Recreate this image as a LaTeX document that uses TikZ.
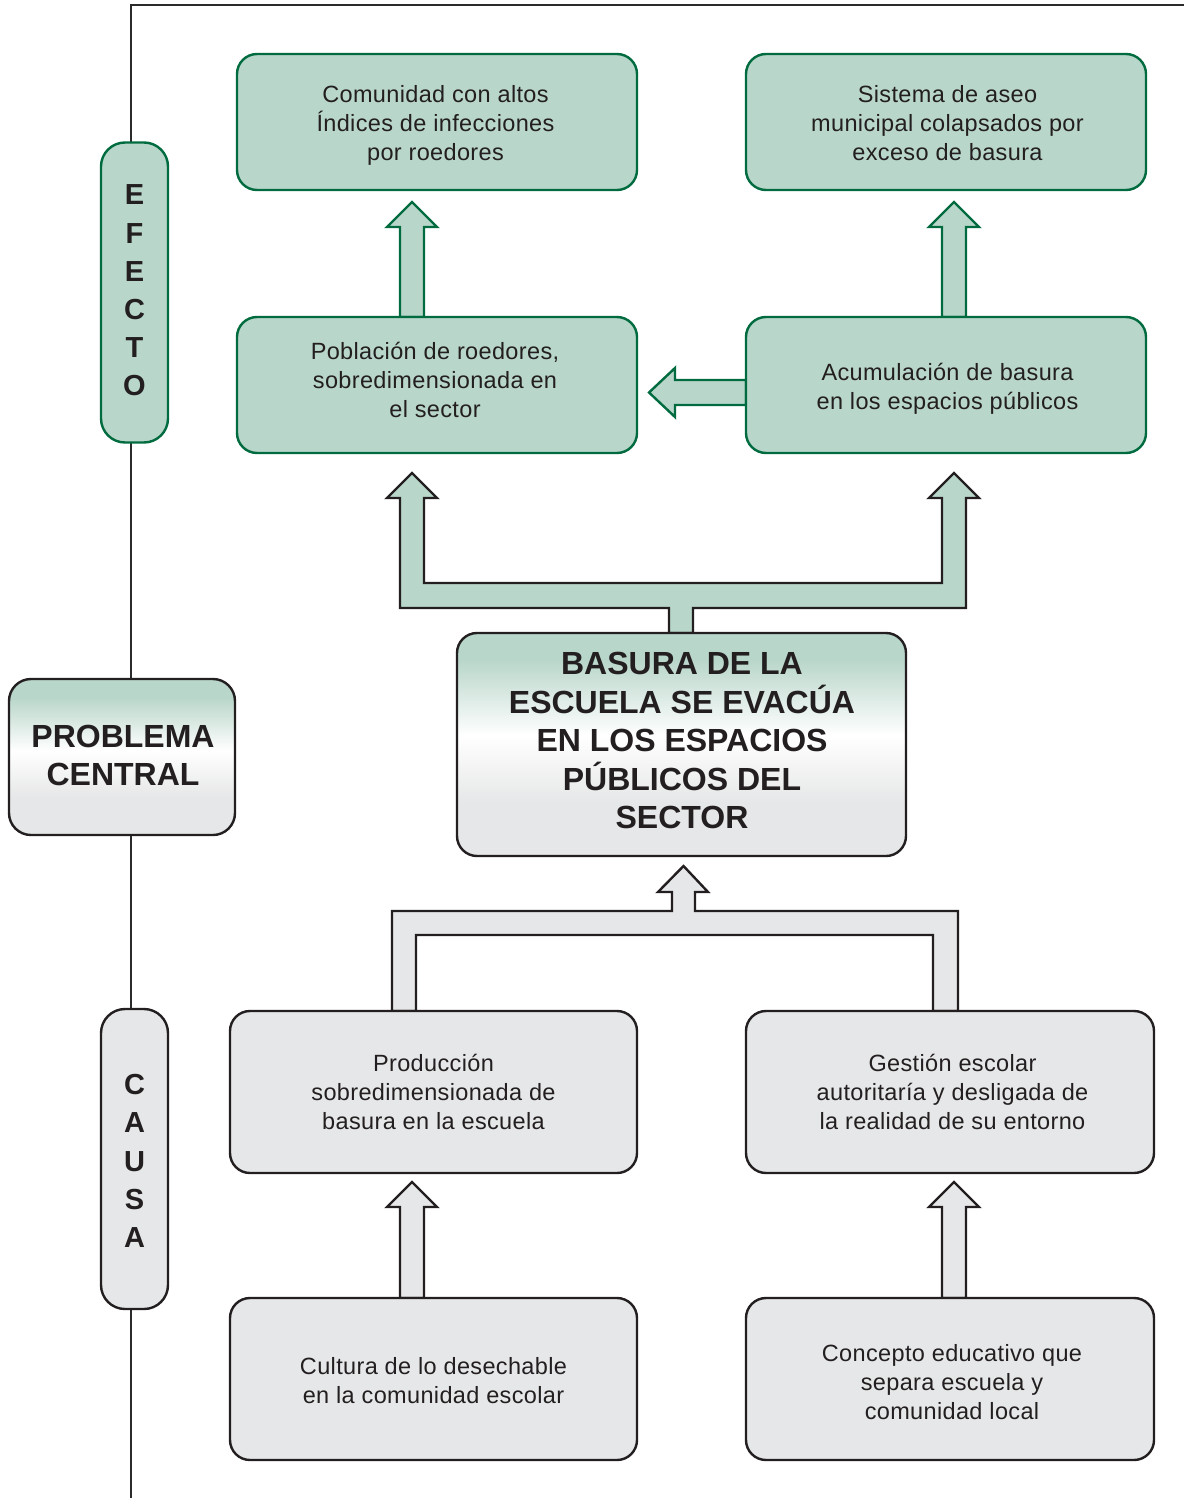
\documentclass[tikz,border=0pt]{standalone}
\usepackage{fontspec}
\setmainfont{Liberation Sans}
\newfontfamily\bodyfont[LetterSpace=1.5]{Liberation Sans}
\usetikzlibrary{calc}
\definecolor{gfill}{HTML}{B9D6CA}
\definecolor{gline}{HTML}{006B3F}
\definecolor{kfill}{HTML}{E6E7E8}
\definecolor{kline}{HTML}{231F20}
\definecolor{frameline}{HTML}{2B2B2B}
\pgfdeclareverticalshading{cshade}{100bp}{color(0bp)=(kfill); color(37bp)=(kfill); color(52bp)=(white); color(69bp)=(gfill); color(100bp)=(gfill)}
\tikzset{
  basebox/.style={rounded corners=20, line width=2.4pt, inner sep=0pt},
  gbox/.style={basebox, draw=gline, fill=gfill},
  kbox/.style={basebox, draw=kline, fill=kfill},
  txt/.style={align=center, inner sep=0pt, text=kline, font=\bodyfont\fontsize{23.5}{29}\selectfont},
  btxt/.style={align=center, inner sep=0pt, text=kline, font=\bfseries\fontsize{32}{38.5}\selectfont},
  pill/.style={rounded corners=24, line width=2.4pt, align=center, inner sep=0pt, text=kline,
     minimum width=67, minimum height=300, font=\bfseries\fontsize{29}{38.2}\selectfont},
  cbox/.style={basebox, draw=kline, shading=cshade},
  garrow/.style={draw=gline, fill=gfill, line width=2.4pt, line join=miter},
  karrow/.style={draw=kline, fill=gfill, line width=2.4pt, line join=miter},
  warrow/.style={draw=kline, fill=kfill, line width=2.4pt, line join=miter},
}
\newcommand{\blockup}[3]{% style, bottom-centre, length
  \draw[#1] ($(#2)+(-12,0)$) -- ++(0,-#3+25) -- ++(-13,0) -- ++(25,-25) -- ++(25,25) -- ++(-13,0) -- ++(0,#3-25) -- cycle;}
\begin{document}
\begin{tikzpicture}[x=1pt,y=-1pt]
\useasboundingbox (0,0) rectangle (1184,1498);
% frame line
\coordinate (fb) at (131,1498);
\coordinate (fc) at (131,5);
\coordinate (fr) at (1184,5);
\draw[frameline, line width=2.4pt] (fb) -- (fc) -- (fr);

% arrows (behind boxes)
\coordinate (a1) at (412,317);
\coordinate (a2) at (954,317);
\blockup{garrow}{a1}{115}
\blockup{garrow}{a2}{115}
% left arrow
\coordinate (la) at (746,392.5);
\draw[garrow] ($(la)+(0,-12.5)$) -- ++(-71,0) -- ++(0,-12) -- ++(-26,24.5) -- ++(26,24.5) -- ++(0,-12) -- ++(71,0) -- cycle;
% central fork (green, black border)
\coordinate (cf) at (681,633);
\draw[karrow] ($(cf)+(-12,0)$) -- ++(0,-25) -- (400,608) -- (400,498) -- (387,498) -- (412,473) -- (437,498) -- (424,498) -- (424,583)
   -- (942,583) -- (942,498) -- (929,498) -- (954,473) -- (979,498) -- (966,498) -- (966,608) -- (693,608) -- ($(cf)+(12,0)$) -- cycle;
% lower fork (gray)
\coordinate (lf) at (683.5,866);
\draw[warrow] (392,1011) -- (392,911) -- (672,911) -- (672,892) -- (658,892) -- (lf) -- (708,892) -- (695,892) -- (695,911)
   -- (958,911) -- (958,1011) -- (933,1011) -- (933,935) -- (416,935) -- (416,1011) -- cycle;
% bottom arrows
\coordinate (b1) at (412,1298);
\coordinate (b2) at (954,1298);
\blockup{warrow}{b1}{116}
\blockup{warrow}{b2}{116}

% side labels
\node[pill, draw=gline, fill=gfill] (efecto) at (134.5,292.5) {};
\node[pill, draw=none, fill=none] (efectot) at (134.5,290.5) {E\\F\\E\\C\\T\\O};
\node[pill, draw=kline, fill=kfill] (causa) at (134.5,1159) {};
\node[pill, draw=none, fill=none] (causat) at (134.5,1161) {C\\A\\U\\S\\A};
\node[cbox, rounded corners=22, minimum width=226, minimum height=156] (problema) at (122,757) {};
\node[btxt] (problemat) at (123,755.5) {PROBLEMA\\CENTRAL};

% effects
\node[gbox, minimum width=400, minimum height=136] (e1l) at (437,122) {};
\node[txt] (e1lt) at (435.5,125) {Comunidad con altos\\Índices de infecciones\\por roedores};
\node[gbox, minimum width=400, minimum height=136] (e1r) at (946,122) {};
\node[txt] (e1rt) at (947.5,123.5) {Sistema de aseo\\municipal colapsados por\\exceso de basura};
\node[gbox, minimum width=400, minimum height=136] (e2l) at (437,385) {};
\node[txt] (e2lt) at (435,380) {Población de roedores,\\sobredimensionada en\\el sector};
\node[gbox, minimum width=400, minimum height=136] (e2r) at (946,385) {};
\node[txt] (e2rt) at (947.5,389) {Acumulación de basura\\en los espacios públicos};

% central problem
\node[cbox, minimum width=449, minimum height=223] (central) at (681.5,744.5) {};
\node[btxt] (centralt) at (682,740.5) {BASURA DE LA\\ESCUELA SE EVACÚA\\EN LOS ESPACIOS\\PÚBLICOS DEL\\SECTOR};

% causes
\node[kbox, minimum width=407, minimum height=162] (c1l) at (433.5,1092) {};
\node[txt] (c1lt) at (433.5,1092) {Producción\\sobredimensionada de\\basura en la escuela};
\node[kbox, minimum width=408, minimum height=162] (c1r) at (950,1092) {};
\node[txt] (c1rt) at (952.5,1092) {Gestión escolar\\autoritaría y desligada de\\la realidad de su entorno};
\node[kbox, minimum width=407, minimum height=162] (c2l) at (433.5,1379) {};
\node[txt] (c2lt) at (433.5,1381) {Cultura de lo desechable\\en la comunidad escolar};
\node[kbox, minimum width=408, minimum height=162] (c2r) at (950,1379) {};
\node[txt] (c2rt) at (952,1382) {Concepto educativo que\\separa escuela y\\comunidad local};
\end{tikzpicture}
\end{document}
